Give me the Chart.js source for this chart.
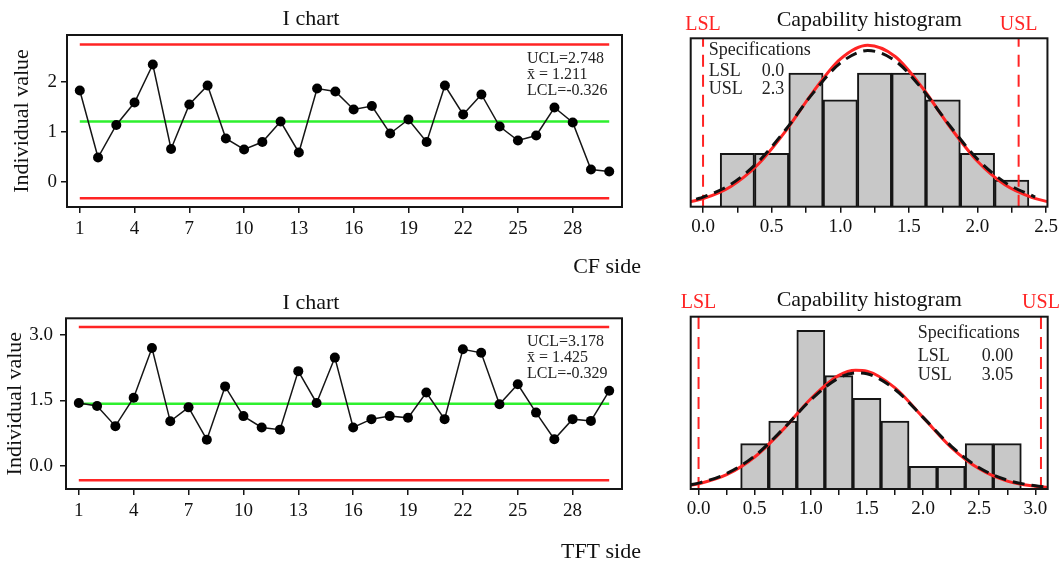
<!DOCTYPE html>
<html>
<head>
<meta charset="utf-8">
<script src="https://cdn.jsdelivr.net/npm/chart.js@4"></script>
<style>
  html, body { margin: 0; padding: 0; background: #fff; overflow: hidden; }
  #wrap { position: relative; width: 1061px; height: 561px; }
  .box { position: absolute; }
</style>
</head>
<body>
<div id="wrap">
  <div class="box" style="left:0;top:0;width:660px;height:280px"><canvas id="iTop"></canvas></div>
  <div class="box" style="left:660px;top:0;width:401px;height:280px"><canvas id="hTop"></canvas></div>
  <div class="box" style="left:0;top:281px;width:660px;height:284px"><canvas id="iBot"></canvas></div>
  <div class="box" style="left:660px;top:281px;width:401px;height:284px"><canvas id="hBot"></canvas></div>
</div>
<script>
// ---- data: CF side ----
const samples = [1,2,3,4,5,6,7,8,9,10,11,12,13,14,15,16,17,18,19,20,21,22,23,24,25,26,27,28,29,30];
const cfValues = [1.83,0.49,1.14,1.59,2.35,0.66,1.55,1.93,0.87,0.65,0.80,1.21,0.59,1.87,1.81,
                  1.45,1.52,0.97,1.25,0.80,1.93,1.35,1.75,1.11,0.83,0.93,1.49,1.19,0.25,0.21];
const cfLimits = [2.748, 1.211, -0.326]; // UCL, mean, LCL
const cfBins = [0.25,0.5,0.75,1.0,1.25,1.5,1.75,2.0,2.25];
const cfCounts = [2,2,5,4,5,5,4,2,1];
const cfSpec = [0.0, 2.3]; // LSL, USL
const cfOverallX = [-0.09,0,0.2,0.4,0.6,0.8,1.0,1.2,1.4,1.6,1.8,2.0,2.2,2.4,2.51];
const cfOverallY = [0.19,0.30,0.75,1.58,2.82,4.28,5.52,6.04,5.62,4.44,2.98,1.70,0.82,0.34,0.19];
const cfWithinX = [-0.05,0,0.2,0.4,0.6,0.8,1.0,1.2,1.4,1.6,1.8,2.0,2.2,2.42];
const cfWithinY = [0.28,0.36,0.83,1.67,2.87,4.24,5.37,5.84,5.46,4.38,3.02,1.78,0.91,0.36];

// ---- data: TFT side ----
const tftValues = [1.44,1.37,0.91,1.56,2.70,1.02,1.34,0.60,1.82,1.14,0.88,0.83,2.17,1.44,2.48,
                   0.88,1.07,1.14,1.10,1.68,1.07,2.67,2.59,1.41,1.87,1.22,0.61,1.07,1.03,1.72];
const tftLimits = [3.178, 1.425, -0.329];
const tftBins = [0.5,0.75,1.0,1.25,1.5,1.75,2.0,2.25,2.5,2.75];
const tftCounts = [2,3,7,5,4,3,1,1,2,2];
const tftSpec = [0.00, 3.05];
const tftOverallX = [-0.07,0,0.25,0.5,0.75,1.0,1.25,1.4,1.5,1.75,2.0,2.25,2.5,2.75,3.0,3.11];
const tftOverallY = [0.17,0.23,0.63,1.41,2.60,3.98,5.01,5.24,5.20,4.46,3.16,1.84,0.89,0.35,0.12,0.07];
const tftWithinX = tftOverallX;
const tftWithinY = [0.19,0.26,0.68,1.46,2.63,3.93,4.90,5.12,5.08,4.39,3.16,1.89,0.94,0.39,0.14,0.08];

// ---- tick labels ----
const iTicksX = [1,4,7,10,13,16,19,22,25,28];
const cfTicksY = [0,1,2];
const tftTicksY = [0,1.5,3];
const cfHistTicks = [0,0.25,0.5,0.75,1,1.25,1.5,1.75,2,2.25,2.5];
const tftHistTicks = [0,0.25,0.5,0.75,1,1.25,1.5,1.75,2,2.25,2.5,2.75,3];

const SERIF = '"Liberation Serif", "Times New Roman", serif';
Chart.defaults.font.family = SERIF;
Chart.defaults.color = '#111';
const RED = '#ff2424';
const INK = '#151515';

const framePlugin = {
  id: 'frame',
  afterDraw(chart) {
    const {ctx, chartArea: a} = chart;
    ctx.save();
    ctx.strokeStyle = INK;
    ctx.lineWidth = 2;
    ctx.strokeRect(a.left, a.top, a.right - a.left, a.bottom - a.top);
    ctx.restore();
  }
};
Chart.register(framePlugin);

// text drawn relative to the chart area (or at an x value)
function notes(items) {
  return {
    id: 'notes',
    afterDraw(chart) {
      const {ctx, chartArea: a} = chart;
      ctx.save();
      ctx.textBaseline = 'middle';
      items.forEach(n => {
        let x;
        if (n.at !== undefined) x = chart.scales.x.getPixelForValue(n.at);
        else x = (n.from === 'right' ? a.right : a.left) + n.dx;
        ctx.font = (n.size || 16) + 'px ' + SERIF;
        ctx.fillStyle = n.color || '#222';
        ctx.textAlign = n.align || 'left';
        ctx.fillText(n.text, x, a.top + n.dy);
      });
      ctx.restore();
    }
  };
}

const pts = (xs, ys) => xs.map((x, i) => ({x: x, y: ys[i]}));
const hline = (y) => [{x: samples[0], y: y}, {x: samples[samples.length - 1], y: y}];

function iChart(id, values, limits, ticksY, dec, L) {
  const [ucl, mean, lcl] = limits;
  return new Chart(document.getElementById(id), {
    type: 'line',
    data: {
      datasets: [
        { data: pts(samples, values), borderColor: INK, borderWidth: 1.5,
          pointRadius: 5, pointBackgroundColor: '#000', pointBorderWidth: 0, tension: 0 },
        { data: hline(mean), borderColor: '#2ef02e', borderWidth: 2.5, pointRadius: 0 },
        { data: hline(ucl), borderColor: RED, borderWidth: 2.5, pointRadius: 0 },
        { data: hline(lcl), borderColor: RED, borderWidth: 2.5, pointRadius: 0 }
      ]
    },
    plugins: [notes([
      { text: 'UCL=' + ucl.toFixed(3), from: 'right', dx: -95, dy: L.n0 },
      { text: 'x\u0304 = ' + mean.toFixed(3), from: 'right', dx: -95, dy: L.n0 + 16 },
      { text: 'LCL=' + lcl.toFixed(3), from: 'right', dx: -95, dy: L.n0 + 32 },
      { text: L.xTitle, from: 'right', dx: 19, dy: L.xTitleY, size: 22, align: 'right', color: '#111' }
    ])],
    options: {
      responsive: true,
      maintainAspectRatio: false,
      animation: false,
      layout: { padding: { left: 0, right: 38, top: 0, bottom: 0 } },
      plugins: {
        legend: { display: false },
        tooltip: { enabled: false },
        title: { display: true, text: 'I chart', color: '#111',
                 font: { size: 22, weight: 'normal', lineHeight: 1.2 },
                 padding: { top: L.tPad, bottom: L.bPad } }
      },
      scales: {
        x: {
          type: 'linear', min: 0.3, max: 30.7,
          afterBuildTicks: s => { s.ticks = iTicksX.map(v => ({value: v})); },
          afterFit: s => { s.height = L.xH; },
          ticks: { font: { size: 19 }, color: '#111', padding: 5, maxRotation: 0, autoSkip: false },
          grid: { drawOnChartArea: false, drawTicks: true, tickLength: 6, color: INK, lineWidth: 1.5 },
          border: { display: false }
        },
        y: {
          min: L.yMin, max: L.yMax,
          afterBuildTicks: s => { s.ticks = ticksY.map(v => ({value: v})); },
          afterFit: s => { s.width = L.yW; },
          ticks: { font: { size: 19 }, color: '#111', padding: L.yPad,
                   callback: v => v.toFixed(dec) },
          grid: { drawOnChartArea: false, drawTicks: true, tickLength: 6, color: INK, lineWidth: 1.5 },
          border: { display: false },
          title: { display: true, text: 'Individual value', color: '#111',
                   font: { size: 22, lineHeight: 1.2 }, padding: { top: L.yTitlePad, bottom: 0 } }
        }
      }
    }
  });
}

function histChart(id, bins, counts, spec, ovX, ovY, wiX, wiY, ticks, L) {
  const [lsl, usl] = spec;
  const side = L.specRight ? 'right' : 'left';
  const c1 = L.specRight ? -130 : 18;
  const c2 = L.specRight ? -66 : 71;
  const gap = L.specRight ? [23, 42] : [21, 39];
  return new Chart(document.getElementById(id), {
    type: 'bar',
    data: {
      datasets: [
        { type: 'line', data: pts(wiX, wiY), borderColor: '#111', borderWidth: 3,
          borderDash: [12, 7], pointRadius: 0, cubicInterpolationMode: 'monotone' },
        { type: 'line', data: pts(ovX, ovY), borderColor: RED, borderWidth: 3,
          pointRadius: 0, cubicInterpolationMode: 'monotone' },
        { type: 'line', data: [{x: lsl, y: 0}, {x: lsl, y: L.yMax}], borderColor: RED,
          borderWidth: 2, borderDash: [12, 8], pointRadius: 0 },
        { type: 'line', data: [{x: usl, y: 0}, {x: usl, y: L.yMax}], borderColor: RED,
          borderWidth: 2, borderDash: [12, 8], pointRadius: 0 },
        { type: 'bar', data: pts(bins, counts), backgroundColor: '#c8c8c8', borderColor: INK,
          borderWidth: 2, barPercentage: 1, categoryPercentage: 1 }
      ]
    },
    plugins: [notes([
      { text: 'LSL', at: lsl, align: 'center', dy: -14, color: RED, size: 20 },
      { text: 'USL', at: usl, align: 'center', dy: -14, color: RED, size: 20 },
      { text: 'Specifications', from: side, dx: c1, dy: L.s0, size: 18 },
      { text: 'LSL', from: side, dx: c1, dy: L.s0 + gap[0], size: 18 },
      { text: lsl.toFixed(L.dec), from: side, dx: c2, dy: L.s0 + gap[0], size: 18 },
      { text: 'USL', from: side, dx: c1, dy: L.s0 + gap[1], size: 18 },
      { text: usl.toFixed(L.dec), from: side, dx: c2, dy: L.s0 + gap[1], size: 18 }
    ])],
    options: {
      responsive: true,
      maintainAspectRatio: false,
      animation: false,
      layout: { padding: { left: L.padL, right: L.padR, top: 0, bottom: 0 } },
      plugins: {
        legend: { display: false },
        tooltip: { enabled: false },
        title: { display: true, text: 'Capability histogram', color: '#111',
                 font: { size: 22, weight: 'normal', lineHeight: 1.2 },
                 padding: { top: L.tPad, bottom: L.bPad } }
      },
      scales: {
        x: {
          type: 'linear', min: L.xMin, max: L.xMax, offset: false,
          afterBuildTicks: s => { s.ticks = ticks.map(v => ({value: v})); },
          afterFit: s => { s.height = L.xH; },
          ticks: { font: { size: 19 }, color: '#111', padding: 3, maxRotation: 0, autoSkip: false,
                   callback: v => (Math.abs(v * 2 - Math.round(v * 2)) < 1e-6 ? v.toFixed(1) : '') },
          grid: { offset: false, drawOnChartArea: false, drawTicks: true, tickLength: 6, color: INK, lineWidth: 1.5 },
          border: { display: false }
        },
        y: { display: false, min: 0, max: L.yMax }
      }
    }
  });
}

iChart('iTop', cfValues, cfLimits, cfTicksY, 0,
  { tPad: 6.5, bPad: 2.1, xH: 73, yW: 67, yMin: -0.5, yMax: 2.94, yPad: 4, yTitlePad: 9,
    xTitle: 'CF side', xTitleY: 232, n0: 24 });
iChart('iBot', tftValues, tftLimits, tftTicksY, 1,
  { tPad: 8.8, bPad: 2.1, xH: 76, yW: 66, yMin: -0.53, yMax: 3.38, yPad: 7, yTitlePad: 2,
    xTitle: 'TFT side', xTitleY: 234, n0: 23.5 });
histChart('hTop', cfBins, cfCounts, cfSpec, cfOverallX, cfOverallY, cfWithinX, cfWithinY, cfHistTicks,
  { tPad: 7.5, bPad: 4.4, xH: 73.3, padL: 30.7, padR: 13.3, xMin: -0.09, xMax: 2.51, yMax: 6.3,
    s0: 12.4, dec: 1, specRight: false });
histChart('hBot', tftBins, tftCounts, tftSpec, tftOverallX, tftOverallY, tftWithinX, tftWithinY, tftHistTicks,
  { tPad: 5.8, bPad: 3.5, xH: 76, padL: 30.7, padR: 13.3, xMin: -0.07, xMax: 3.11, yMax: 7.6,
    s0: 16.3, dec: 2, specRight: true });
</script>
</body>
</html>
